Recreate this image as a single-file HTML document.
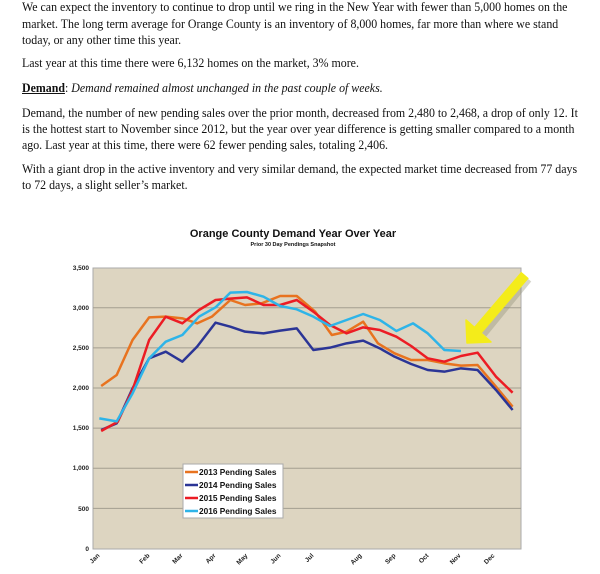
<!DOCTYPE html>
<html><head><meta charset="utf-8"><style>
body{margin:0;width:600px;height:574px;background:#fff;position:relative;overflow:hidden;font-family:"Liberation Serif",serif;font-size:13px;color:#111}
.l{position:absolute;left:22px;white-space:nowrap;line-height:16px;transform:scaleX(0.915);transform-origin:0 0}
</style></head><body>
<div class="l" style="top:-1px">We can expect the inventory to continue to drop until we ring in the New Year with fewer than 5,000 homes on the</div>
<div class="l" style="top:16px">market. The long term average for Orange County is an inventory of 8,000 homes, far more than where we stand</div>
<div class="l" style="top:32px">today, or any other time this year.</div>
<div class="l" style="top:55px">Last year at this time there were 6,132 homes on the market, 3% more.</div>
<div class="l" style="top:80px"><b><u>Demand</u></b>: <i>Demand remained almost unchanged in the past couple of weeks.</i></div>
<div class="l" style="top:105px">Demand, the number of new pending sales over the prior month, decreased from 2,480 to 2,468, a drop of only 12. It</div>
<div class="l" style="top:121px">is the hottest start to November since 2012, but the year over year difference is getting smaller compared to a month</div>
<div class="l" style="top:137px">ago. Last year at this time, there were 62 fewer pending sales, totaling 2,406.</div>
<div class="l" style="top:161px">With a giant drop in the active inventory and very similar demand, the expected market time decreased from 77 days</div>
<div class="l" style="top:177px">to 72 days, a slight seller’s market.</div>
<svg style="position:absolute;left:0;top:0" width="600" height="574">
<g font-family="Liberation Sans,sans-serif" font-weight="bold" fill="#111">
<text x="293" y="237" font-size="11" text-anchor="middle">Orange County Demand Year Over Year</text>
<text x="293" y="246" font-size="5.5" text-anchor="middle">Prior 30 Day Pendings Snapshot</text>
</g>
<rect x="93" y="268" width="428" height="281" fill="#ddd5c1" stroke="#aaa"/>
<g stroke="#a39e90" stroke-width="1">
<line x1="93" y1="307.7" x2="521" y2="307.7"/><line x1="93" y1="347.9" x2="521" y2="347.9"/>
<line x1="93" y1="388" x2="521" y2="388"/><line x1="93" y1="428.1" x2="521" y2="428.1"/>
<line x1="93" y1="468.3" x2="521" y2="468.3"/><line x1="93" y1="508.4" x2="521" y2="508.4"/>
</g>
<g font-family="Liberation Sans,sans-serif" font-weight="bold" font-size="6.5" fill="#222" text-anchor="end">
<text x="89" y="270">3,500</text><text x="89" y="310">3,000</text><text x="89" y="350">2,500</text><text x="89" y="390">2,000</text><text x="89" y="430">1,500</text><text x="89" y="470">1,000</text><text x="89" y="511">500</text><text x="89" y="551">0</text>
</g>
<g font-family="Liberation Sans,sans-serif" font-weight="bold" font-size="6.5" fill="#222" text-anchor="end">
<text transform="translate(100 556) rotate(-45)">Jan</text><text transform="translate(150 556) rotate(-45)">Feb</text><text transform="translate(183 556) rotate(-45)">Mar</text><text transform="translate(216 556) rotate(-45)">Apr</text><text transform="translate(248 556) rotate(-45)">May</text><text transform="translate(281 556) rotate(-45)">Jun</text><text transform="translate(314 556) rotate(-45)">Jul</text><text transform="translate(362 556) rotate(-45)">Aug</text><text transform="translate(396 556) rotate(-45)">Sep</text><text transform="translate(429 556) rotate(-45)">Oct</text><text transform="translate(461 556) rotate(-45)">Nov</text><text transform="translate(495 556) rotate(-45)">Dec</text>
</g>
<g transform="translate(20 220) scale(0.369 0.33333)" fill="none" stroke-linejoin="round">
<polyline stroke="#e8731f" stroke-width="2.5" vector-effect="non-scaling-stroke" points="220,498 262,465 305,360 350,292 395,290 440,295 480,310 520,290 570,240 610,255 655,250 705,228 750,228 800,275 845,345 885,335 930,305 970,370 1015,400 1060,420 1105,420 1150,430 1195,437 1240,435 1290,500 1335,560"/>
<polyline stroke="#2b3596" stroke-width="2.5" vector-effect="non-scaling-stroke" points="220,630 262,610 305,505 350,415 395,395 440,425 480,380 530,308 570,320 610,335 660,340 705,332 750,325 795,390 840,383 885,370 930,362 975,385 1015,410 1060,432 1105,450 1150,455 1195,445 1240,450 1290,510 1335,570"/>
<polyline stroke="#ec1c24" stroke-width="2.5" vector-effect="non-scaling-stroke" points="220,633 265,605 305,510 350,360 395,290 440,310 485,270 530,240 570,236 615,232 660,255 705,255 750,240 795,275 840,315 885,340 930,322 975,330 1020,350 1060,378 1105,415 1150,425 1195,408 1240,398 1290,470 1335,518"/>
<polyline stroke="#2eb4e8" stroke-width="2.5" vector-effect="non-scaling-stroke" points="215,595 262,604 305,520 350,415 395,365 440,345 485,290 530,262 570,218 615,216 660,230 705,258 750,268 795,290 840,318 885,300 930,282 975,300 1020,333 1065,310 1105,340 1150,390 1195,393"/>
</g>
<line x1="527" y1="278" x2="482" y2="333" stroke="#8a8a70" stroke-width="11" opacity="0.35"/>
<line x1="525" y1="275" x2="478" y2="330" stroke="#f4ec1a" stroke-width="10"/>
<polygon points="467,343 466,320 491,342" fill="#f4ec1a" stroke="#f4ec1a" stroke-width="1.5" stroke-linejoin="round"/>
<rect x="183" y="464" width="100" height="54" fill="#fff" stroke="#aaa"/>
<g stroke-width="2.5">
<line x1="185" y1="472" x2="198" y2="472" stroke="#e8731f"/>
<line x1="185" y1="485" x2="198" y2="485" stroke="#2b3596"/>
<line x1="185" y1="498" x2="198" y2="498" stroke="#ec1c24"/>
<line x1="185" y1="511" x2="198" y2="511" stroke="#2eb4e8"/>
</g>
<g font-family="Liberation Sans,sans-serif" font-weight="bold" font-size="8.3" fill="#111">
<text x="199" y="475">2013 Pending Sales</text><text x="199" y="488">2014 Pending Sales</text><text x="199" y="501">2015 Pending Sales</text><text x="199" y="514">2016 Pending Sales</text>
</g>
</svg>
</body></html>
